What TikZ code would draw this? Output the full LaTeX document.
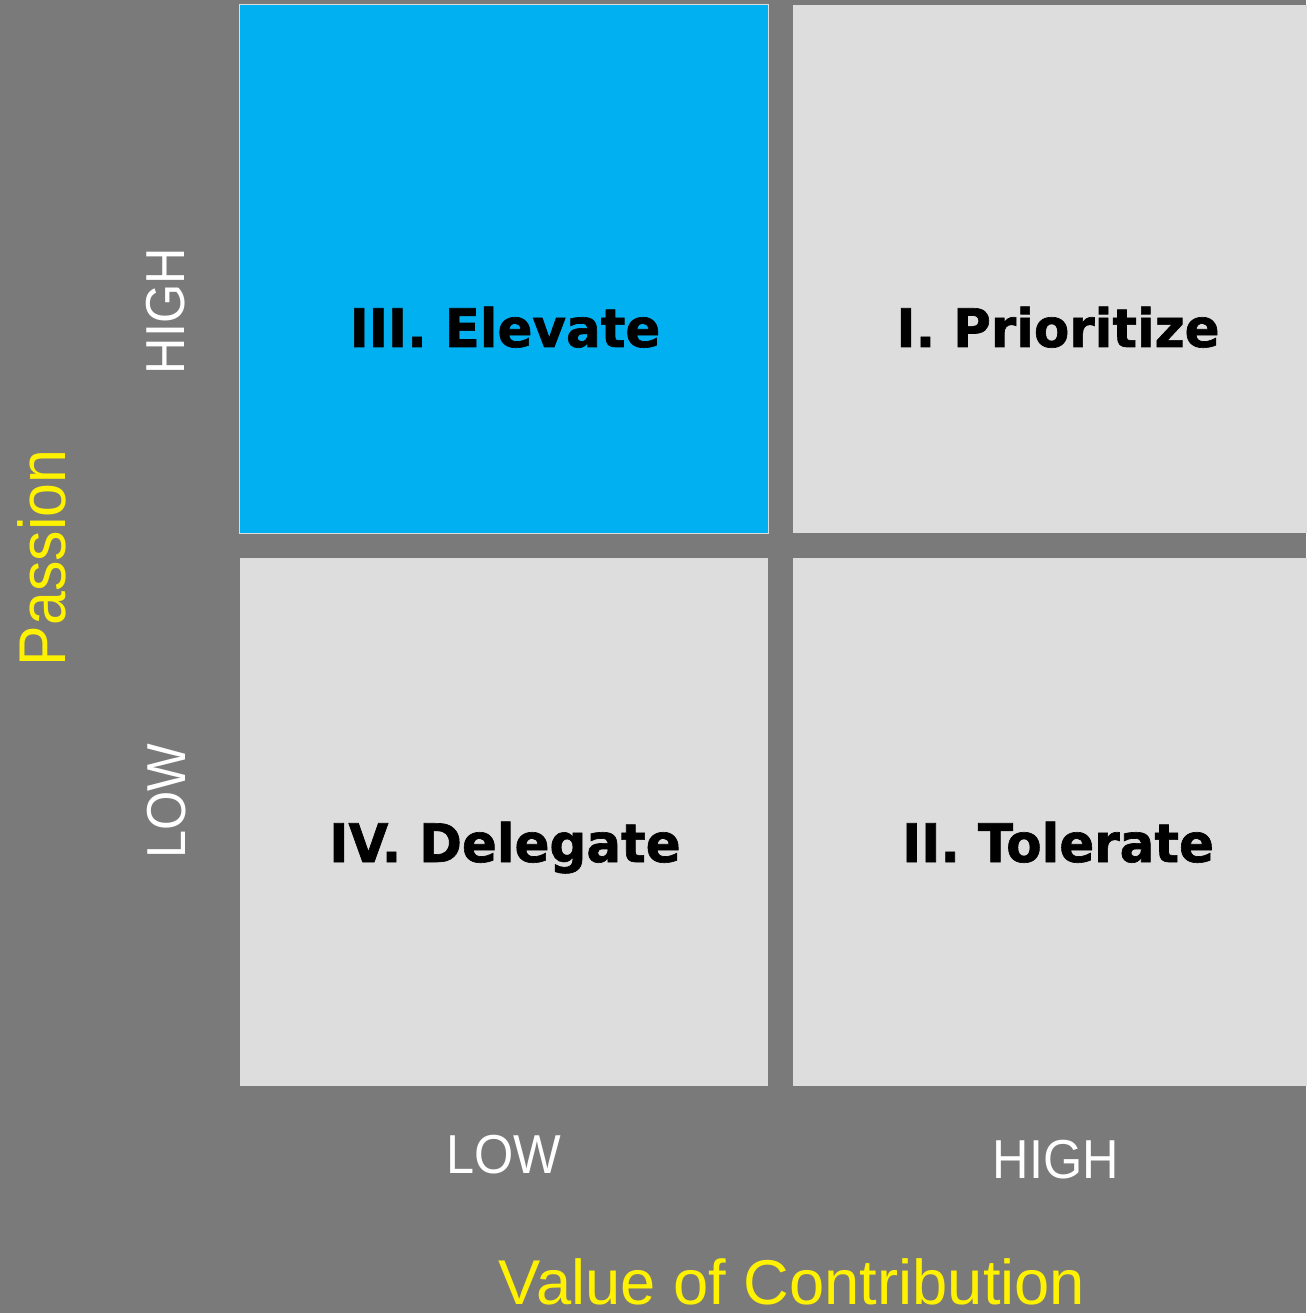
\documentclass[tikz,border=0pt]{standalone}
\usepackage{fontspec}
\setmainfont{Liberation Sans}
\newfontfamily\quadfont[FakeStretch=0.97,BoldFeatures={FakeBold=1.2}]{DejaVu Sans}
\newfontfamily\axisfont[FakeStretch=0.92]{Liberation Sans}
\usetikzlibrary{positioning}
\definecolor{bggray}{HTML}{7A7A7A}
\definecolor{boxgray}{HTML}{DDDDDD}
\definecolor{elevblue}{HTML}{00B0F0}
\tikzset{
    %Define style for the four quadrants
    quad/.style={
           rectangle,
           fill=boxgray,
           minimum width=5.28cm,
           minimum height=5.28cm,
           inner sep=0pt,
           outer sep=0pt},
    %Define style for quadrant titles
    quadtitle/.style={
           anchor=base,
           inner sep=0pt,
           text=black,
           font=\quadfont\bfseries\fontsize{15.1pt}{18pt}\selectfont},
    %Define style for LOW / HIGH marks
    level/.style={
           anchor=base,
           inner sep=0pt,
           text=white,
           font=\axisfont\fontsize{15.6pt}{18pt}\selectfont},
    % Define style for axis names
    axisname/.style={
           anchor=base,
           inner sep=0pt,
           text=yellow}
}

\begin{document}
\begin{tikzpicture}[x=0.01cm,y=-0.01cm]
\useasboundingbox (0,0) rectangle (1306,1313);
\fill[bggray] (0,0) rectangle (1306,1313);
% quadrants
\node[quad, fill=elevblue, draw=boxgray, line width=0.3pt] (III) at (504,269) {};
\node[quad, right=0.25cm of III] (I) {};
\node[quad, below=0.25cm of III] (IV) {};
\node[quad, below=0.25cm of I] (II) {};
\node[quadtitle] (elevate) at (505,347) {III. Elevate};
\node[quadtitle] (prioritize) at (1058,347) {I. Prioritize};
\node[quadtitle] (delegate) at (505,862) {IV. Delegate};
\node[quadtitle] (tolerate) at (1058,862) {II. Tolerate};
% axes
\node[level] (xlow) at (504,1173) {LOW};
\node[level] (xhigh) at (1056,1178) {HIGH};
\node[level, rotate=90] (yhigh) at (184,311) {HIGH};
\node[level, rotate=90] (ylow) at (185,801) {LOW};
\node[axisname, font=\fontsize{18pt}{21pt}\selectfont] (value) at (792,1304) {Value of Contribution};
\node[axisname, rotate=90, font=\axisfont\fontsize{18.8pt}{22pt}\selectfont] (passion) at (65,558) {Passion};
\end{tikzpicture}
\end{document}
